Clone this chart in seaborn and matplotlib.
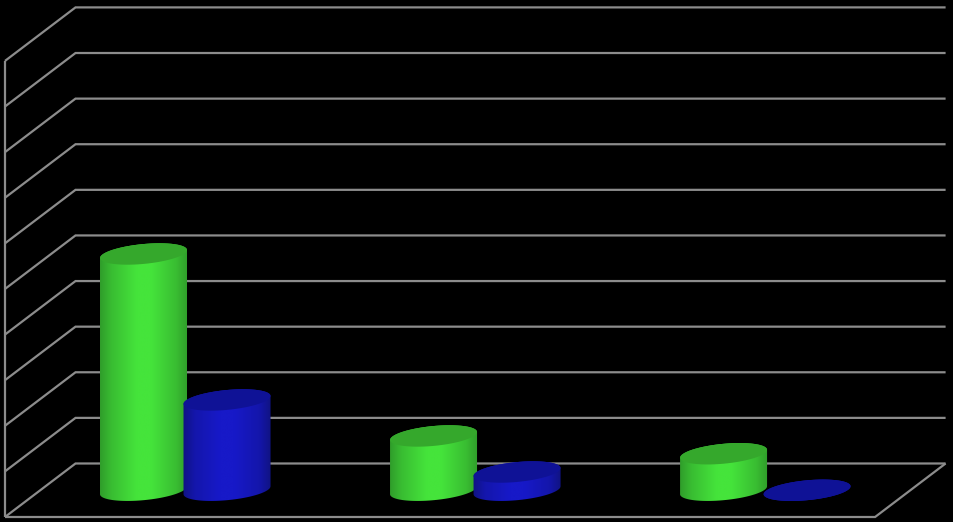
import numpy as np
import pandas as pd
import seaborn as sns
import matplotlib
matplotlib.use("Agg")
import matplotlib.pyplot as plt
from matplotlib.colors import LinearSegmentedColormap
from matplotlib.patches import Polygon
from matplotlib.path import Path
from matplotlib.transforms import IdentityTransform

categories = ["A", "B", "C"]
green_values = [5.18, 1.19, 0.80]
blue_values = [1.98, 0.40, 0.0]
grid_values = list(range(11))

GRID = "#8c8c8c"
SHADE_POS = [0, 0.14, 0.42, 0.58, 0.86, 1]
BODY = {
    0: ["#2f9a2a", "#39bd32", "#45e43b", "#45e43b", "#39bd32", "#2f9a2a"],
    1: ["#10137f", "#1416ab", "#1719c8", "#1719c8", "#1416ab", "#10137f"],
}
TOPS = ["#35a82c", "#0f1296"]

# pixel layout of the front plane
PX_CAT = 290.0
PX_UNIT = 45.6
DEPTH_X = 70.5 / PX_CAT
DEPTH_Y = 53.5 / PX_UNIT

# cylinder ellipse, in pixels
A, B, TILT = 43.7, 9.9, np.radians(5.5)

sns.set_theme(style="white", rc={"figure.facecolor": "black", "axes.facecolor": "black"})

df = pd.DataFrame({
    "category": categories * 2,
    "value": green_values + blue_values,
    "series": ["green"] * 3 + ["blue"] * 3,
})

fig = plt.figure(figsize=(9.531, 5.221), dpi=100)
ax = fig.add_axes([0, 0, 1, 1])
sns.barplot(data=df, x="category", y="value", hue="series", width=0.576, gap=0,
            palette=["#45e43b", "#1719c8"], legend=False, ax=ax)
ax.set_xlim(-150 / PX_CAT, 803 / PX_CAT)
ax.set_ylim(-5 / PX_UNIT, 517 / PX_UNIT)
ax.axis("off")

# wall and floor lines
line_kw = dict(color=GRID, lw=1.6, solid_capstyle="butt", solid_joinstyle="miter", zorder=1)
for v in grid_values:
    ax.plot([-0.5, -0.5 + DEPTH_X, 2.5 + DEPTH_X], [v, v + DEPTH_Y, v + DEPTH_Y], **line_kw)
ax.plot([-0.5, -0.5], [0, grid_values[-1]], **line_kw)
ax.plot([-0.5, 2.5, 2.5 + DEPTH_X], [0, 0, DEPTH_Y], **line_kw)


def ellipse_arc(center, start, stop):
    t = np.linspace(start, stop, 60)
    x = center[0] + A * np.cos(t) * np.cos(TILT) - B * np.sin(t) * np.sin(TILT)
    y = center[1] + A * np.cos(t) * np.sin(TILT) + B * np.sin(t) * np.cos(TILT)
    return np.column_stack([x, y])


def draw_cylinder(rect, body_colors, top_color, z):
    cx = rect.get_x() + rect.get_width() / 2 + DEPTH_X / 2
    base = DEPTH_Y / 2
    top = base + rect.get_height()
    half = A / PX_CAT * 1.02
    p_base = ax.transData.transform((cx, base))
    p_top = ax.transData.transform((cx, top))

    t0 = np.arctan2(-B * np.sin(TILT), A * np.cos(TILT))
    outline = np.vstack([ellipse_arc(p_top, t0, t0 + np.pi),
                         ellipse_arc(p_base, t0 + np.pi, t0 + 2 * np.pi)])

    cmap = LinearSegmentedColormap.from_list("body", list(zip(SHADE_POS, body_colors)))
    shade = np.linspace(0, 1, 256).reshape(1, -1)
    extent = (cx - half, cx + half, base - 1, top + 1)
    im = ax.imshow(shade, cmap=cmap, aspect="auto", extent=extent,
                   interpolation="bilinear", zorder=z)
    im.set_clip_path(Path(np.vstack([outline, outline[:1]])), IdentityTransform())

    cap = ellipse_arc(p_top, 0, 2 * np.pi)
    ax.add_patch(Polygon(cap, closed=True, fc=top_color, ec="none",
                         transform=IdentityTransform(), zorder=z + 0.5))


# seaborn places the bars, the cylinders are built on their geometry
for s, container in enumerate(ax.containers):
    for rect in container:
        draw_cylinder(rect, BODY[s], TOPS[s], 3 + s)
        rect.set_visible(False)

ax.set_xlim(-150 / PX_CAT, 803 / PX_CAT)
ax.set_ylim(-5 / PX_UNIT, 517 / PX_UNIT)

fig.savefig("out.png", dpi=100, facecolor="black")
